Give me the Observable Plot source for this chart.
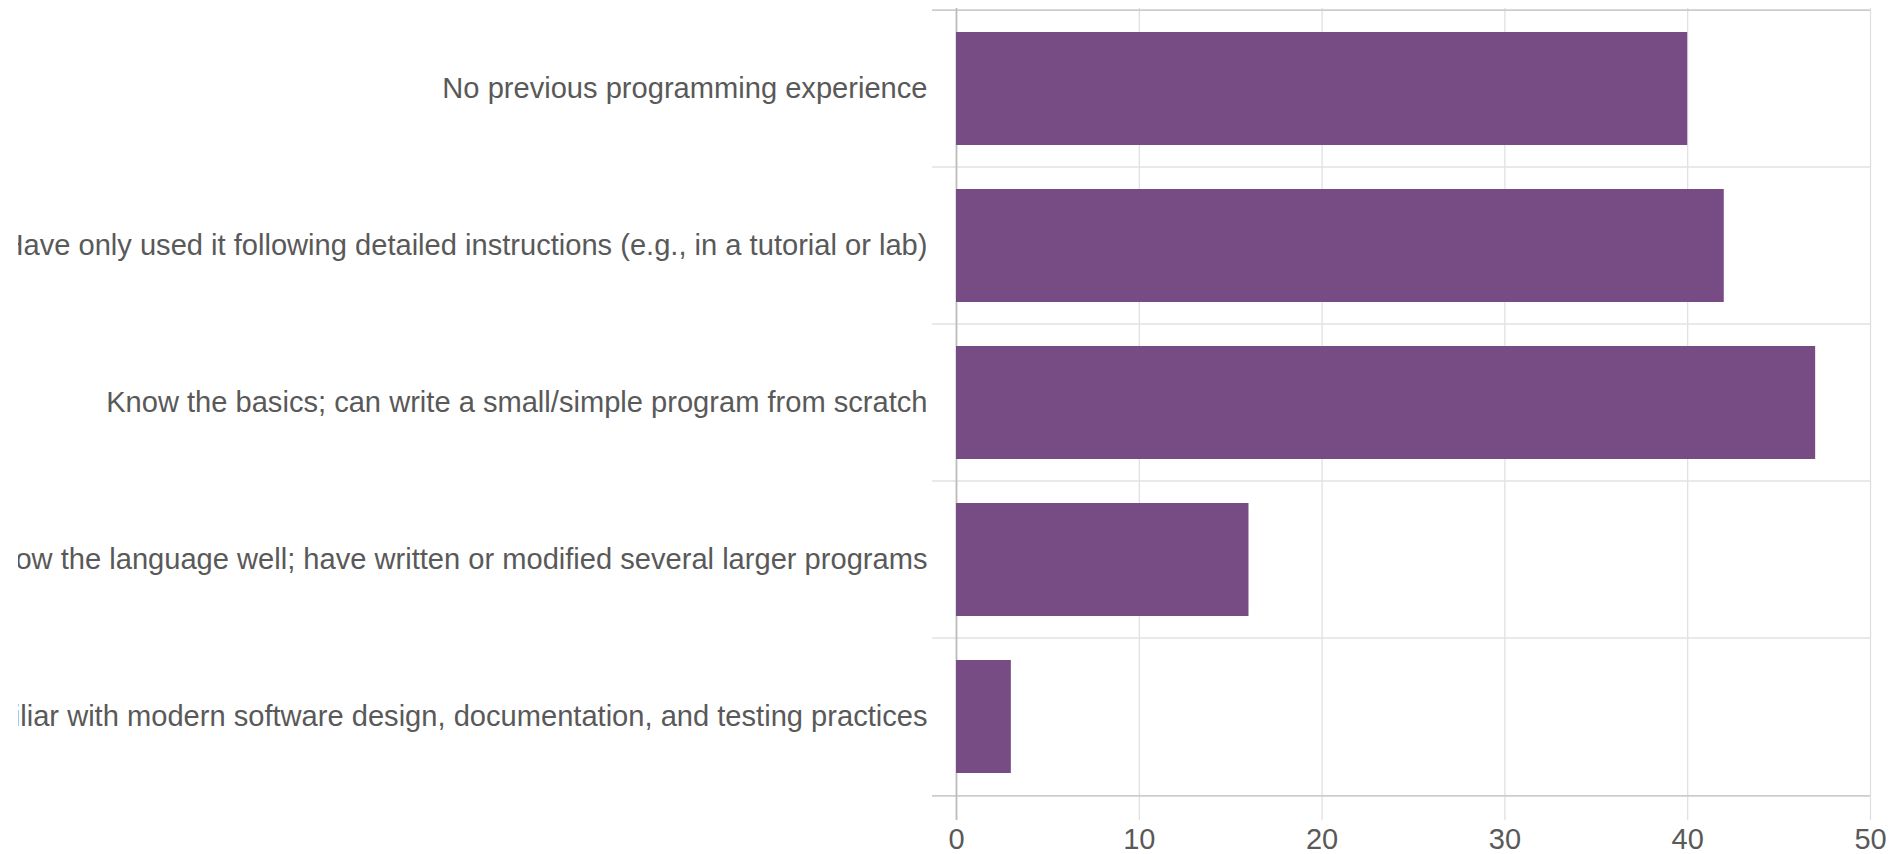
<!DOCTYPE html>
<html>
<head>
<meta charset="utf-8">
<script src="https://cdn.jsdelivr.net/npm/d3@7"></script>
<script src="https://cdn.jsdelivr.net/npm/@observablehq/plot@0.6"></script>
<style>
  html, body { margin: 0; padding: 0; background: #fff; overflow: hidden; }
  #chart { margin-left: 18px; }
  #chart svg { overflow: hidden; }
</style>
</head>
<body>
<div id="chart"></div>
<script>
const categories = [
  "No previous programming experience",
  "Have only used it following detailed instructions (e.g., in a tutorial or lab)",
  "Know the basics; can write a small/simple program from scratch",
  "Know the language well; have written or modified several larger programs",
  "Familiar with modern software design, documentation, and testing practices"
];
const counts = [40, 42, 47, 16, 3];
const xTicks = [0, 10, 20, 30, 40, 50];

const data = categories.map((c, i) => ({category: c, count: counts[i]}));

const W = 1878, H = 854;
const mL = 938, mR = 26, mT = 8, mB = 57;
const step = (H - mT - mB) / categories.length;

const chart = Plot.plot({
  width: W,
  height: H,
  marginLeft: mL,
  marginRight: mR,
  marginTop: mT,
  marginBottom: mB,
  style: {
    fontFamily: "'Liberation Sans', Arial, Helvetica, sans-serif",
    background: "#ffffff"
  },
  x: {domain: [0, 50], label: null},
  y: {domain: categories, padding: 0, label: null},
  marks: [
    Plot.gridX(xTicks, {stroke: "#dedede", strokeOpacity: 1, strokeWidth: 1.2, insetBottom: -23}),
    Plot.ruleY(categories.slice(1), {y: d => d, dy: -step / 2, stroke: "#e2e2e2", strokeWidth: 1.5, insetLeft: -24}),
    Plot.ruleY([categories[0]], {y: d => d, dy: -step / 2, stroke: "#cccccc", strokeWidth: 1.8, insetLeft: -24}),
    Plot.ruleY([categories[categories.length - 1]], {y: d => d, dy: step / 2, stroke: "#cccccc", strokeWidth: 1.8, insetLeft: -24}),
    Plot.ruleX([0], {stroke: "#bdbdbd", strokeWidth: 1.8, insetBottom: -23}),
    Plot.barX(data, {x: "count", y: "category", fill: "#774c84", insetTop: 22, insetBottom: 22}),
    Plot.axisX(xTicks, {tickSize: 0, tickPadding: 31, fontSize: 29, fill: "#595959", label: null}),
    Plot.axisY({tickSize: 0, tickPadding: 29, fontSize: 29.1, fill: "#595959", label: null, textOverflow: null, lineWidth: Infinity})
  ]
});

document.getElementById("chart").appendChild(chart);
</script>
</body>
</html>
